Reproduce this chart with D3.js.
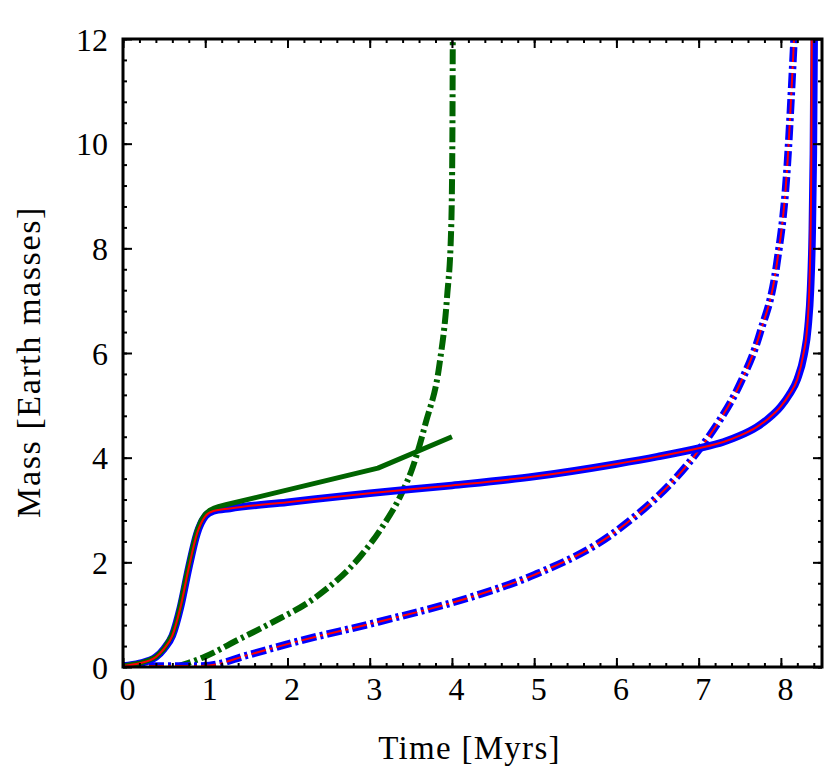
<!DOCTYPE html>
<html>
<head>
<meta charset="utf-8">
<script src="https://cdn.jsdelivr.net/npm/d3@7"></script>
<style>
  body { margin: 0; background: #fff; }
  text { font-family: "Liberation Serif", "Times New Roman", serif; fill: #000; }
</style>
</head>
<body>
<script>
// time [Myrs] and mass [Earth masses]
const blueSolidT = [0, 0.2, 0.4, 0.5, 0.6, 0.7, 0.8, 0.9, 1.0, 1.1, 1.3, 2, 3, 4, 5, 6, 6.5, 7, 7.3, 7.5, 7.7, 7.85, 8.0, 8.1, 8.2, 8.28, 8.33, 8.36, 8.38, 8.395, 8.405, 8.41];
const blueSolidM = [0.02, 0.07, 0.19, 0.35, 0.6, 1.15, 1.9, 2.55, 2.88, 2.98, 3.03, 3.15, 3.32, 3.47, 3.64, 3.88, 4.02, 4.18, 4.3, 4.42, 4.58, 4.75, 4.98, 5.2, 5.5, 5.95, 6.5, 7.2, 8.2, 9.8, 12, 12.5];

const redSolidT = [0, 0.2, 0.4, 0.5, 0.6, 0.7, 0.8, 0.9, 1.0, 1.1, 1.3, 2, 3, 4, 5, 6, 6.5, 7, 7.3, 7.5, 7.7, 7.85, 8.0, 8.1, 8.2, 8.27, 8.32, 8.345, 8.36, 8.37, 8.375, 8.38];
const redSolidM = [0.02, 0.07, 0.19, 0.35, 0.6, 1.15, 1.9, 2.55, 2.88, 2.98, 3.03, 3.15, 3.32, 3.47, 3.64, 3.88, 4.02, 4.18, 4.3, 4.42, 4.58, 4.75, 4.98, 5.2, 5.5, 5.95, 6.5, 7.2, 8.2, 9.8, 12, 12.5];

const greenSolidT = [0, 0.2, 0.3, 0.4, 0.5, 0.6, 0.65, 0.7, 0.75, 0.8, 0.85, 0.9, 0.95, 1.0, 1.05, 1.1, 1.17, 1.25, 3.1, 4.0];
const greenSolidM = [0.02, 0.07, 0.12, 0.19, 0.35, 0.62, 0.85, 1.2, 1.58, 1.95, 2.3, 2.6, 2.8, 2.92, 2.99, 3.03, 3.07, 3.1, 3.8, 4.4];

const greenDashT = [0.65, 1.0, 1.4, 1.8, 2.35, 2.9, 3.15, 3.39, 3.51, 3.68, 3.85, 3.94, 3.99, 4.005, 4.01];
const greenDashM = [0, 0.2, 0.52, 0.84, 1.34, 2.14, 2.67, 3.32, 3.76, 4.66, 5.8, 7.06, 8.34, 10, 12];

const blueDashT = [0, 0.5, 0.9, 1.05, 1.5, 2.1, 3.1, 4.3, 5, 6, 7, 7.25, 7.5, 7.75, 7.95, 8.07, 8.16];
const blueDashM = [0.02, 0.02, 0.02, 0.03, 0.22, 0.48, 0.86, 1.37, 1.76, 2.6, 4.14, 4.7, 5.4, 6.4, 7.7, 9.4, 12];

const xTicks = [0, 1, 2, 3, 4, 5, 6, 7, 8];
const yTicks = [0, 2, 4, 6, 8, 10, 12];

const width = 830, height = 776;
const margin = {top: 39, right: 8, bottom: 109, left: 123};
const plotW = width - margin.left - margin.right;
const plotH = height - margin.top - margin.bottom;

const x = d3.scaleLinear().domain([0, 8.5]).range([0, plotW]);
const y = d3.scaleLinear().domain([0, 12]).range([plotH, 0]);

const svg = d3.select('body').append('svg')
  .attr('width', width)
  .attr('height', height);

const g = svg.append('g').attr('transform', `translate(${margin.left},${margin.top})`);

g.append('clipPath').attr('id', 'clip')
  .append('rect').attr('width', plotW).attr('height', plotH);

const zip = (ts, ms) => ts.map((t, i) => [t, ms[i]]);

const lines = g.append('g').attr('clip-path', 'url(#clip)');

function draw(ts, ms, color, w, dash, curve) {
  const line = d3.line().x(d => x(d[0])).y(d => y(d[1])).curve(curve || d3.curveMonotoneX);
  lines.append('path')
    .datum(zip(ts, ms))
    .attr('d', line)
    .attr('fill', 'none')
    .attr('stroke', color)
    .attr('stroke-width', w)
    .attr('stroke-dasharray', dash || null)
    .attr('stroke-linejoin', 'round');
}

const dashDot = '15,4,3,4';
draw(greenDashT, greenDashM, '#006400', 6, dashDot);
draw(blueDashT, blueDashM, '#0000ff', 7.5, dashDot);
draw(blueDashT, blueDashM, '#ff0000', 2, dashDot);
draw(blueSolidT, blueSolidM, '#0000ff', 7.5);
draw(greenSolidT, greenSolidM, '#006400', 5, null, d3.curveLinear);
draw(redSolidT, redSolidM, '#ff0000', 2);

// axes: ticks point inward on all four sides
const xMinor = d3.range(0, 8.51, 0.2);
const yMinor = d3.range(0, 12.01, 0.4);

function tickStyle(sel) {
  sel.select('.domain').remove();
  sel.selectAll('line').attr('stroke', '#000').attr('stroke-width', 2);
}

g.append('g').attr('transform', `translate(0,${plotH})`)
  .call(d3.axisBottom(x).tickValues(xMinor).tickSize(-4).tickFormat(''))
  .call(tickStyle);
g.append('g')
  .call(d3.axisTop(x).tickValues(xMinor).tickSize(-4).tickFormat(''))
  .call(tickStyle);
g.append('g')
  .call(d3.axisLeft(y).tickValues(yMinor).tickSize(-4).tickFormat(''))
  .call(tickStyle);
g.append('g').attr('transform', `translate(${plotW},0)`)
  .call(d3.axisRight(y).tickValues(yMinor).tickSize(-4).tickFormat(''))
  .call(tickStyle);

const xAxis = g.append('g').attr('transform', `translate(0,${plotH})`)
  .call(d3.axisBottom(x).tickValues(xTicks).tickSize(-9).tickPadding(22).tickFormat(d3.format('d')))
  .call(tickStyle);
xAxis.selectAll('text').attr('font-size', 32).attr('dx', 4).attr('dy', '0.35em');

g.append('g')
  .call(d3.axisTop(x).tickValues(xTicks).tickSize(-9).tickFormat(''))
  .call(tickStyle);

const yAxis = g.append('g')
  .call(d3.axisLeft(y).tickValues(yTicks).tickSize(-9).tickPadding(15).tickFormat(d3.format('d')))
  .call(tickStyle);
yAxis.selectAll('text').attr('font-size', 32).attr('dy', '0.35em');

g.append('g').attr('transform', `translate(${plotW},0)`)
  .call(d3.axisRight(y).tickValues(yTicks).tickSize(-9).tickFormat(''))
  .call(tickStyle);

// frame
g.append('rect')
  .attr('width', plotW).attr('height', plotH)
  .attr('fill', 'none').attr('stroke', '#000').attr('stroke-width', 3);

svg.append('text')
  .attr('x', margin.left + plotW / 2 - 3)
  .attr('y', 759)
  .attr('text-anchor', 'middle')
  .attr('font-size', 33)
  .attr('letter-spacing', 1.3)
  .text('Time [Myrs]');

svg.append('text')
  .attr('transform', `translate(40,${margin.top + plotH / 2 + 9}) rotate(-90)`)
  .attr('text-anchor', 'middle')
  .attr('font-size', 34)
  .attr('letter-spacing', 1.6)
  .text('Mass [Earth masses]');
</script>
</body>
</html>
